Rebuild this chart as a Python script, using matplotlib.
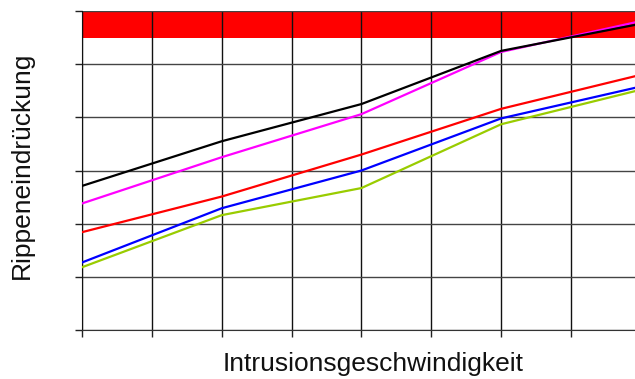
import matplotlib
matplotlib.use("Agg")
import matplotlib.pyplot as plt

plt.rcParams['font.family'] = ['Liberation Sans', 'DejaVu Sans']

x = [0, 2, 4, 6, 8]
black = [2.71, 3.55, 4.25, 5.25, 5.76]
magenta = [2.38, 3.25, 4.06, 5.23, 5.81]
red = [1.84, 2.51, 3.30, 4.16, 4.80]
blue = [1.27, 2.29, 3.00, 3.98, 4.58]
green = [1.18, 2.16, 2.67, 3.87, 4.52]
band = (5.5, 6.0)

fig = plt.figure(figsize=(6.35, 3.79), dpi=100)
ax = fig.add_axes([82/635, 49/379, 8*69.86/635, 319/379])
ax.set_xlim(0, 8)
ax.set_ylim(0, 6)

ax.axhspan(band[0], band[1], color='#ff0000', zorder=1, lw=0)

ax.set_xticks(range(0, 9))
ax.set_yticks(range(0, 7))
ax.xaxis.grid(True, color='#111111', lw=1, zorder=1.5)
ax.yaxis.grid(True, color='#444444', lw=1, zorder=1.5)
ax.tick_params(axis='both', length=5, width=1, color='#222222',
               labelbottom=False, labelleft=False)

for vals, c in [(green, '#99cc00'), (blue, '#0000ff'), (red, '#ff0000'),
                (magenta, '#ff00ff'), (black, '#000000')]:
    ax.plot(x, vals, color=c, lw=1.6, zorder=3, clip_on=True)

for s in ['top', 'right']:
    ax.spines[s].set_visible(False)
ax.spines['left'].set_color('#111111')
ax.spines['bottom'].set_color('#333333')

fig.text(373/635, 1 - 371/379, 'Intrusionsgeschwindigkeit', fontsize=19,
         ha='center', va='baseline', color='#111111')
fig.text(22/635, 1 - 165/379, 'Rippeneindrückung', fontsize=19,
         rotation=90, ha='center', va='center', color='#111111')

fig.savefig('out.png', dpi=100)
